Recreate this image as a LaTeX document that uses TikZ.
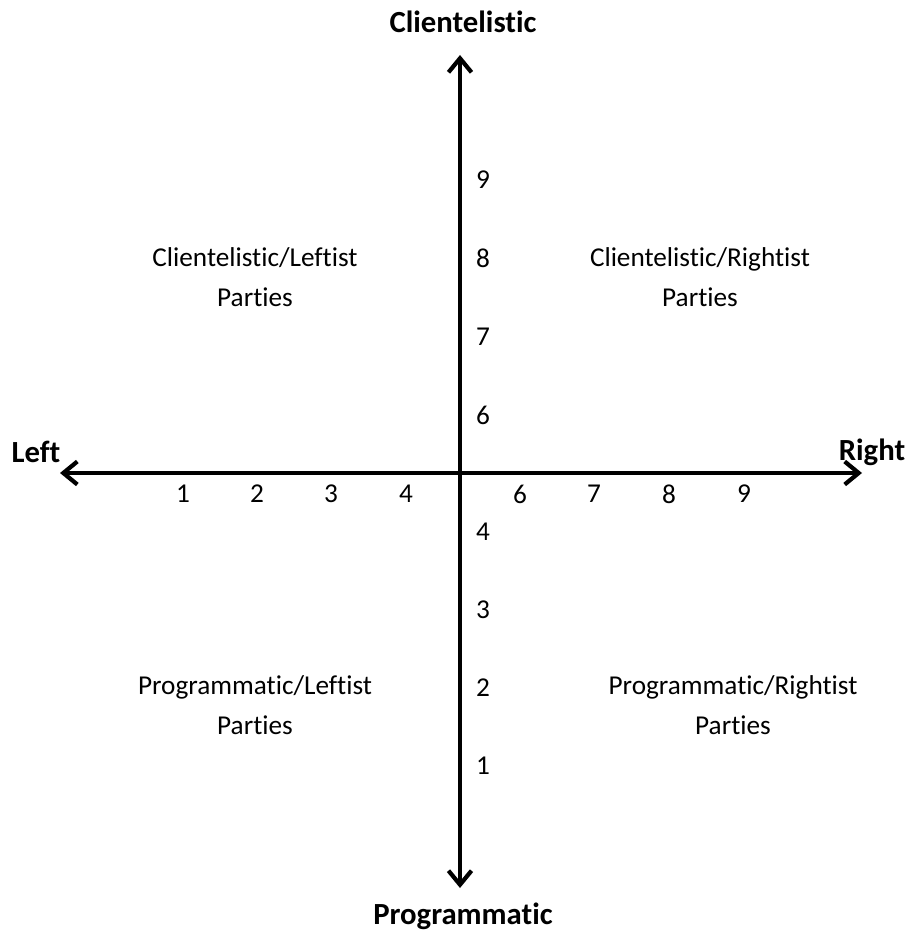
\documentclass[tikz,border=0pt]{standalone}
\usepackage{fontspec}
\setmainfont[Ligatures=NoCommon]{Carlito}
\usetikzlibrary{arrows.meta}
\tikzstyle{axis}=[line width=2.2pt,
  {Straight Barb[length=0.28cm,width=0.46cm,line width=2.4pt]}-{Straight Barb[length=0.28cm,width=0.46cm,line width=2.4pt]}]
\tikzstyle{num}=[font=\fontsize{15.5}{18}\selectfont,inner sep=0pt]
\tikzstyle{pole}=[font=\bfseries\fontsize{17.5}{20}\selectfont,inner sep=0pt]
\tikzstyle{quad}=[align=center,font=\fontsize{15.5}{23}\selectfont,inner sep=0pt]

\begin{document}
\begin{tikzpicture}[x=0.02cm,y=-0.02cm]
    \useasboundingbox (0,0) rectangle (911,936);
            \coordinate (1) at (60,473);
            \coordinate (2) at (862,473);
            \coordinate (3) at (460,55);
            \coordinate (4) at (460,888);
            \node [style=pole] (5) at (36,452) {Left};
            \node [style=pole] (6) at (872,452) {Right};
            \node [style=pole] (7) at (463,22) {Clientelistic};
            \node [style=pole] (8) at (463,916) {Programmatic};
            \draw [style=axis] (1) to (2);
            \draw [style=axis] (4) to (3);
            \foreach \n/\x in {1/183,2/257,3/331,4/406,6/520,7/594,8/669,9/744}
                \node [style=num] (x\n) at (\x,494) {\n};
            \foreach \n/\y in {9/180,8/258,7/337,6/415,4/532,3/610,2/688,1/766}
                \node [style=num] (y\n) at (483,\y) {\n};
            \node [style=quad] (9) at (255,277) {Clientelistic/Leftist\\Parties};
            \node [style=quad] (10) at (700,277) {Clientelistic/Rightist\\Parties};
            \node [style=quad] (11) at (255,705) {Programmatic/Leftist\\Parties};
            \node [style=quad] (12) at (733,705) {Programmatic/Rightist\\Parties};
    \end{tikzpicture}
\end{document}
